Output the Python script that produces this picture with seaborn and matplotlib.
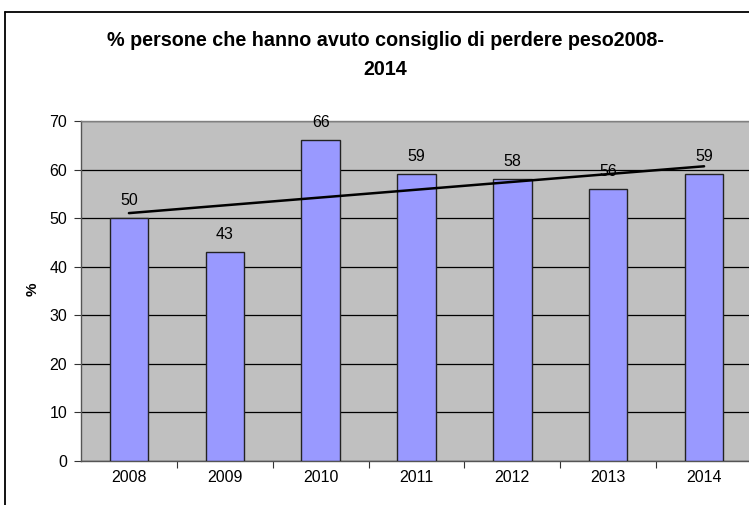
import numpy as np
import pandas as pd
import matplotlib
matplotlib.use("Agg")
import matplotlib.pyplot as plt
import seaborn as sns
from matplotlib.lines import Line2D

years = ["2008", "2009", "2010", "2011", "2012", "2013", "2014"]
values = [50, 43, 66, 59, 58, 56, 59]
title = "% persone che hanno avuto consiglio di perdere peso2008-\n2014"

sns.set_style("white")
plt.rcParams['font.family'] = ['Liberation Sans', 'DejaVu Sans']
plt.rcParams['text.color'] = 'black'
plt.rcParams['xtick.color'] = 'black'
plt.rcParams['ytick.color'] = 'black'

df = pd.DataFrame({"anno": years, "perc": values})

fig = plt.figure(figsize=(7.49, 5.05), dpi=100)
W, H = 749, 505
# plot area in pixels: left 81, right 752, top 121, bottom 461
ax = fig.add_axes([81 / W, (H - 461) / H, (752 - 81) / W, (461 - 121) / H])
ax.set_facecolor("#C0C0C0")

sns.barplot(data=df, x="anno", y="perc", color="#9999FF", saturation=1,
            width=0.4, edgecolor="#222222", linewidth=1.0, ax=ax, zorder=3)

# linear trend line
x = np.arange(len(values))
slope, intercept = np.polyfit(x, values, 1)
ax.plot(x, slope * x + intercept, color="black", lw=1.8, zorder=5)

# value labels
for i, v in enumerate(values):
    ax.text(i, v + 3.6, str(v), ha="center", va="center", fontsize=11.5, zorder=6)

ax.set_xlim(-0.5, 6.5)
ax.set_ylim(0, 70)
ax.set_yticks(range(0, 80, 10))
ax.yaxis.grid(True, color="black", lw=0.9)
ax.set_axisbelow(True)
ax.set_xlabel("")
ax.set_ylabel("")

ax.set_xticks(x)
ax.set_xticklabels(years)
ax.set_xticks(np.arange(0.5, 6.5, 1), minor=True)
ax.tick_params(axis="x", which="major", length=0, pad=6.5, labelsize=11.5)
ax.tick_params(axis="x", which="minor", length=5, width=0.8, direction="out", color="#333333")
ax.tick_params(axis="y", length=5, width=0.8, direction="out", color="#333333",
               labelsize=11.5, pad=5)
ax.xaxis.set_ticks_position("bottom")
ax.yaxis.set_ticks_position("left")

for side in ["left", "bottom"]:
    ax.spines[side].set_color("#555555")
    ax.spines[side].set_linewidth(1.0)
ax.spines["top"].set_color("#808080")
ax.spines["top"].set_linewidth(1.0)
ax.spines["right"].set_visible(False)

# y label
fig.text(33 / W, 1 - 289 / H, "%", rotation=90, ha="center", va="center",
         fontsize=11, fontweight="bold")

# chart title
fig.text(385 / W, 1 - 55 / H, title, ha="center", va="center", fontsize=14.2,
         fontweight="bold", linespacing=1.7)

# outer chart border (left and top edges visible)
fig.add_artist(Line2D([5 / W, 5 / W], [0, 1 - 12 / H], transform=fig.transFigure,
                      color="black", lw=1.3))
fig.add_artist(Line2D([5 / W, 1], [1 - 12 / H, 1 - 12 / H], transform=fig.transFigure,
                      color="black", lw=1.3))

fig.savefig("out.png", dpi=100, facecolor="white")
